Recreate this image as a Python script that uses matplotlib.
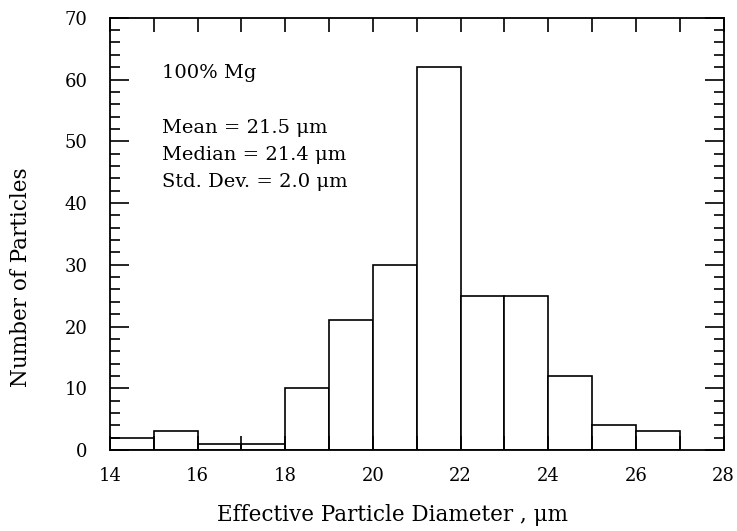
import matplotlib.pyplot as plt
from matplotlib.ticker import MultipleLocator

plt.rcParams["font.family"] = "DejaVu Serif"
plt.rcParams["mathtext.fontset"] = "dejavuserif"

# Histogram bins (left edges, width 1 um) and counts
bin_left = [14, 15, 16, 17, 18, 19, 20, 21, 22, 23, 24, 25, 26]
counts = [2, 3, 1, 1, 10, 21, 30, 62, 25, 25, 12, 4, 3]

fig = plt.figure(figsize=(7.37, 5.31), dpi=100)
ax = fig.add_axes([0.149, 0.1525, 0.833, 0.814])

ax.bar(bin_left, counts, width=1, align="edge", facecolor="white",
       edgecolor="black", linewidth=1.2)

ax.set_xlim(14, 28)
ax.set_ylim(0, 70)
ax.xaxis.set_major_locator(MultipleLocator(2))
ax.xaxis.set_minor_locator(MultipleLocator(1))
ax.yaxis.set_major_locator(MultipleLocator(10))
ax.yaxis.set_minor_locator(MultipleLocator(2))

ax.tick_params(which="both", direction="in", top=True, right=True,
               labelsize=13, width=1.2)
ax.tick_params(axis="y", which="major", length=14, pad=16)
ax.tick_params(axis="y", which="minor", length=7)
ax.tick_params(axis="x", which="both", length=10, pad=12)
for s in ax.spines.values():
    s.set_linewidth(1.3)

ax.set_xlabel("Effective Particle Diameter , \u03bcm", fontsize=15.5)
ax.set_ylabel("Number of Particles", fontsize=15.5)
ax.xaxis.set_label_coords(0.46, -0.125)
ax.yaxis.set_label_coords(-0.127, 0.40)

# annotation block
ax.text(15.18, 60.2, "100% Mg", fontsize=14)
ax.text(15.18, 51.3, "Mean = 21.5 \u03bcm", fontsize=14)
ax.text(15.18, 46.9, "Median = 21.4 \u03bcm", fontsize=14)
ax.text(15.18, 42.6, "Std. Dev. = 2.0 \u03bcm", fontsize=14)

fig.savefig("out.png", dpi=100)
